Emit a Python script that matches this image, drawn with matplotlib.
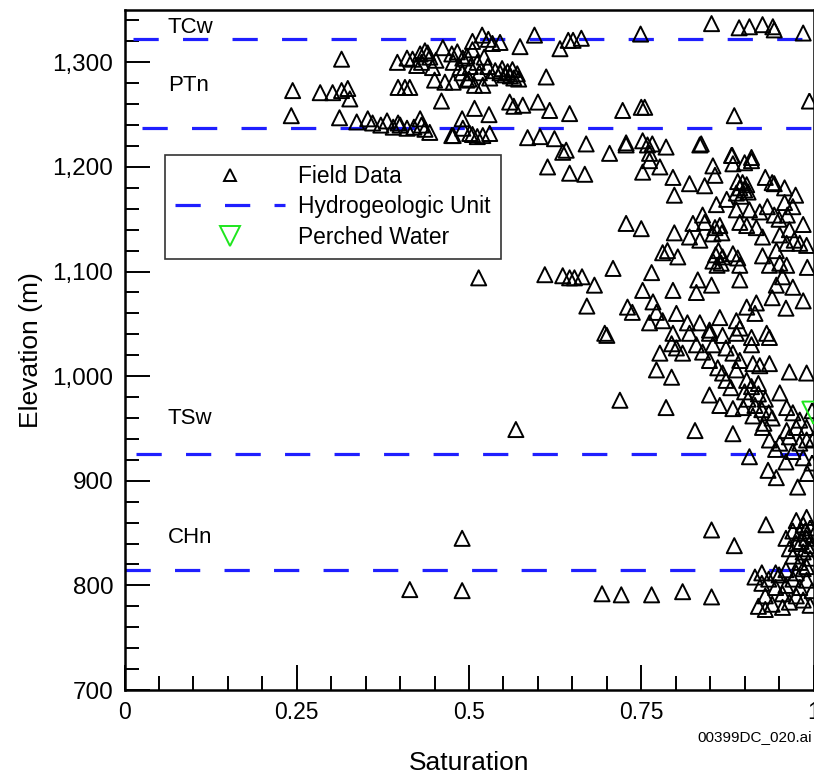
import matplotlib

matplotlib.use("Agg")

import matplotlib.pyplot as plt
from matplotlib.lines import Line2D
from matplotlib.ticker import FuncFormatter, MultipleLocator

OUTPUT_PNG = "out.png"

# (saturation, elevation m), grouped by elevation band
TCW_POINTS = [
    (0.852, 1337), (0.892, 1333), (0.907, 1334), (0.926, 1336), (0.941, 1334),
    (0.943, 1331), (0.985, 1328), (0.749, 1327), (0.519, 1326), (0.595, 1326),
    (0.663, 1323), (0.651, 1321), (0.644, 1321), (0.534, 1318), (0.545, 1319),
    (0.574, 1315), (0.632, 1313), (0.505, 1320), (0.528, 1322),
]

PTN_POINTS = [
    (0.315, 1303), (0.244, 1273), (0.242, 1249), (0.284, 1271), (0.302, 1271),
    (0.315, 1273), (0.324, 1275), (0.327, 1265), (0.312, 1247), (0.337, 1243),
    (0.353, 1246), (0.360, 1242), (0.381, 1244), (0.397, 1242), (0.429, 1246),
    (0.431, 1240), (0.372, 1240), (0.390, 1238), (0.400, 1240), (0.420, 1238),
    (0.396, 1300), (0.410, 1304), (0.429, 1308), (0.436, 1311), (0.443, 1305),
    (0.424, 1297), (0.447, 1295), (0.462, 1314), (0.475, 1308), (0.477, 1300),
    (0.487, 1295), (0.491, 1304), (0.450, 1283), (0.465, 1281), (0.477, 1281),
    (0.497, 1283), (0.397, 1276), (0.407, 1276), (0.414, 1276), (0.460, 1263),
    (0.418, 1303), (0.431, 1300), (0.440, 1309), (0.452, 1302), (0.483, 1310),
    (0.497, 1306), (0.505, 1312), (0.512, 1300), (0.502, 1296), (0.515, 1290),
    (0.522, 1305), (0.527, 1296), (0.490, 1290), (0.500, 1284), (0.530, 1285),
    (0.520, 1278), (0.508, 1278), (0.538, 1292), (0.545, 1290), (0.552, 1288),
    (0.556, 1291), (0.560, 1287), (0.565, 1285), (0.570, 1289), (0.572, 1284),
    (0.548, 1294), (0.563, 1293), (0.612, 1286), (0.559, 1262), (0.578, 1259),
    (0.600, 1262), (0.617, 1254), (0.646, 1251), (0.723, 1254), (0.750, 1257),
    (0.755, 1257), (0.885, 1249), (0.994, 1263), (0.490, 1246), (0.508, 1256),
    (0.529, 1250), (0.565, 1258), (0.410, 1237), (0.491, 1237),
]

TSW_POINTS = [
    (0.443, 1233), (0.436, 1236), (0.475, 1230), (0.477, 1230), (0.501, 1232),
    (0.505, 1231), (0.512, 1229), (0.520, 1230), (0.530, 1232), (0.585, 1228),
    (0.603, 1229), (0.624, 1227), (0.641, 1216), (0.670, 1222), (0.704, 1213),
    (0.728, 1223), (0.752, 1225), (0.766, 1222), (0.786, 1219), (0.762, 1213),
    (0.837, 1222), (0.882, 1211), (0.910, 1209), (0.728, 1221), (0.759, 1221),
    (0.835, 1221), (0.614, 1200), (0.646, 1194), (0.668, 1193), (0.636, 1214),
    (0.762, 1206), (0.752, 1195), (0.777, 1200), (0.796, 1190), (0.820, 1184),
    (0.842, 1182), (0.854, 1201), (0.857, 1192), (0.881, 1211), (0.883, 1203),
    (0.910, 1206), (0.940, 1185), (0.798, 1173), (0.888, 1175), (0.893, 1180),
    (0.897, 1185), (0.900, 1178), (0.903, 1183), (0.895, 1172), (0.890, 1186),
    (0.905, 1176), (0.900, 1204), (0.859, 1164), (0.874, 1169), (0.888, 1159),
    (0.907, 1159), (0.922, 1157), (0.933, 1162), (0.943, 1154), (0.958, 1166),
    (0.962, 1154), (0.943, 1184), (0.974, 1173), (0.970, 1162), (0.958, 1180),
    (0.930, 1190), (0.950, 1150), (0.985, 1145), (0.965, 1140), (0.728, 1146),
    (0.750, 1141), (0.798, 1137), (0.825, 1146), (0.839, 1154), (0.842, 1147),
    (0.857, 1142), (0.864, 1144), (0.867, 1137), (0.820, 1133), (0.835, 1130),
    (0.854, 1136), (0.893, 1147), (0.903, 1144), (0.917, 1142), (0.926, 1133),
    (0.951, 1135), (0.961, 1127), (0.972, 1130), (0.980, 1127), (0.946, 1120),
    (0.926, 1115), (0.936, 1106), (0.951, 1108), (0.961, 1106), (0.991, 1104),
    (0.990, 1125), (0.788, 1120), (0.803, 1114), (0.781, 1118), (0.854, 1110),
    (0.858, 1116), (0.862, 1120), (0.866, 1108), (0.860, 1106), (0.868, 1114),
    (0.883, 1117), (0.890, 1113), (0.893, 1106), (0.709, 1103), (0.765, 1099),
    (0.610, 1097), (0.636, 1096), (0.646, 1094), (0.653, 1094), (0.664, 1095),
    (0.682, 1087), (0.671, 1067), (0.697, 1041), (0.514, 1094), (0.752, 1082),
    (0.796, 1082), (0.832, 1092), (0.830, 1080), (0.852, 1087), (0.893, 1092),
    (0.946, 1087), (0.955, 1095), (0.970, 1085), (0.985, 1072), (0.960, 1065),
    (0.940, 1075), (0.730, 1066), (0.737, 1061), (0.767, 1071), (0.772, 1061),
    (0.762, 1051), (0.801, 1060), (0.781, 1053), (0.817, 1051), (0.835, 1051),
    (0.849, 1044), (0.864, 1056), (0.888, 1053), (0.903, 1066), (0.917, 1070),
    (0.893, 1046), (0.932, 1041), (0.915, 1060), (0.700, 1039), (0.796, 1041),
    (0.820, 1041), (0.849, 1041), (0.868, 1039), (0.888, 1041), (0.910, 1037),
    (0.936, 1037), (0.777, 1022), (0.801, 1027), (0.794, 1031), (0.810, 1022),
    (0.830, 1030), (0.839, 1023), (0.854, 1030), (0.873, 1027), (0.883, 1022),
    (0.893, 1015), (0.910, 1030), (0.912, 1012), (0.922, 1010), (0.936, 1012),
    (0.965, 1004), (0.990, 1003), (0.772, 1006), (0.794, 999), (0.849, 1015),
    (0.861, 1008), (0.868, 1003), (0.873, 996), (0.880, 989), (0.888, 1006),
    (0.903, 996), (0.719, 977), (0.786, 970), (0.849, 982), (0.864, 972),
    (0.883, 969), (0.900, 985), (0.905, 978), (0.910, 990), (0.915, 972),
    (0.920, 983), (0.925, 968), (0.930, 978), (0.935, 965), (0.940, 960),
    (0.912, 962), (0.898, 970), (0.920, 993), (0.928, 955), (0.951, 984),
    (0.961, 970), (0.970, 965), (0.980, 958), (0.990, 951), (0.998, 967),
    (0.828, 948), (0.883, 945), (0.568, 949), (0.926, 951), (0.936, 939),
    (0.951, 936), (0.965, 942), (0.980, 936), (0.990, 939), (0.961, 948),
    (0.975, 951), (1.000, 940), (0.945, 930), (0.970, 928),
]

CHN_POINTS = [
    (0.907, 923), (0.934, 910), (0.946, 903), (0.977, 894), (0.991, 907),
    (0.998, 917), (0.960, 918), (0.985, 922), (0.490, 845), (0.852, 853),
    (0.885, 838), (0.931, 858), (0.975, 862), (0.985, 858), (0.995, 855),
    (0.980, 850), (0.990, 845), (0.975, 840), (0.998, 838), (0.985, 832),
    (0.970, 828), (0.995, 826), (0.980, 822), (0.990, 818), (0.965, 835),
    (0.960, 845), (0.970, 852), (0.990, 865), (1.000, 848), (0.993, 835),
    (0.982, 842), (0.988, 852),
]

LOWER_POINTS = [
    (0.490, 795), (0.414, 796), (0.693, 792), (0.721, 791), (0.765, 791),
    (0.810, 794), (0.852, 789), (0.915, 808), (0.925, 802), (0.935, 806),
    (0.945, 798), (0.930, 790), (0.950, 810), (0.960, 800), (0.955, 792),
    (0.970, 806), (0.980, 798), (0.990, 805), (0.975, 790), (0.940, 782),
    (0.930, 777), (0.920, 780), (0.955, 779), (0.965, 784), (0.985, 786),
    (0.998, 795), (0.995, 781), (0.945, 812), (0.960, 815), (0.975, 812),
    (0.985, 816), (0.925, 812),
]

PERCHED_POINTS = [(1.0, 965)]

UNIT_BOUNDARIES = [1322, 1237, 926, 815]
UNIT_NAMES = ["TCw", "PTn", "TSw", "CHn"]
UNIT_LABEL_ELEV = [1333, 1278, 960, 846]

X_TICKS = [0, 0.25, 0.5, 0.75, 1]
X_TICK_LABELS = ["0", "0.25", "0.5", "0.75", "1"]

BLUE = "#1f1fff"
GREEN = "#1ee61e"
DASHES = (0, (7.9, 7.6))


def build_chart() -> None:
    plt.rcParams["font.family"] = ["Liberation Sans", "DejaVu Sans"]

    field = TCW_POINTS + PTN_POINTS + TSW_POINTS + CHN_POINTS + LOWER_POINTS
    sat = [p[0] for p in field]
    elev = [p[1] for p in field]

    fig = plt.figure(figsize=(8.14, 7.76), dpi=100)
    ax = fig.add_axes([0.153, 0.1108, 0.8464, 0.8763])

    ax.scatter(sat, elev, marker="^", s=118, facecolors="none",
               edgecolors="black", linewidths=1.4, zorder=3)
    ax.scatter([p[0] for p in PERCHED_POINTS], [p[1] for p in PERCHED_POINTS],
               marker="v", s=260, facecolors="none", edgecolors=GREEN,
               linewidths=1.4, zorder=4)

    # dash phase differs a little from line to line in the original
    starts = [0.012, 0.025, 0.017, 0.0]
    for y, x0 in zip(UNIT_BOUNDARIES, starts):
        ax.axhline(y, xmin=x0, xmax=1.0, color=BLUE, lw=2.3, ls=DASHES, zorder=2)

    for name, y in zip(UNIT_NAMES, UNIT_LABEL_ELEV):
        ax.text(0.063, y, name, fontsize=16, ha="left", va="center")

    ax.set_xlim(0, 1)
    ax.set_ylim(700, 1350)
    ax.set_xticks(X_TICKS)
    ax.set_xticklabels(X_TICK_LABELS)
    ax.xaxis.set_minor_locator(MultipleLocator(0.05))
    ax.yaxis.set_major_locator(MultipleLocator(100))
    ax.yaxis.set_minor_locator(MultipleLocator(20))
    ax.yaxis.set_major_formatter(FuncFormatter(lambda v, _: f"{v:,.0f}"))

    ax.tick_params(which="both", direction="in", top=False, right=False,
                   width=1.4, pad=8)
    ax.tick_params(which="major", length=18)
    ax.tick_params(which="minor", length=10)
    ax.tick_params(axis="x", labelsize=16.5)
    ax.tick_params(axis="y", labelsize=17.5)
    for spine in ax.spines.values():
        spine.set_linewidth(1.8)

    ax.set_xlabel("Saturation", fontsize=19)
    ax.set_ylabel("Elevation (m)", fontsize=19)
    ax.xaxis.set_label_coords(0.5, -0.09)
    ax.yaxis.set_label_coords(-0.118, 0.5)

    handles = [
        Line2D([], [], marker="^", ls="none", mfc="none", mec="black",
               ms=9, mew=1.4),
        Line2D([], [], color=BLUE, lw=2.3, ls=DASHES),
        Line2D([], [], marker="v", ls="none", mfc="none", mec=GREEN,
               ms=15, mew=1.4),
    ]
    leg = ax.legend(handles, ["Field Data", "Hydrogeologic Unit", "Perched Water"],
                    loc="upper left", bbox_to_anchor=(0.059, 0.787),
                    borderaxespad=0, fontsize=16.4, handlelength=4.8,
                    handletextpad=0.6, labelspacing=0.32, borderpad=0.45,
                    fancybox=False, framealpha=1, edgecolor="#333333")
    leg.get_frame().set_linewidth(1.2)
    leg.set_zorder(5)

    fig.text(0.9975, 0.050, "00399DC_020.ai", fontsize=11, ha="right", va="center")

    fig.savefig(OUTPUT_PNG, dpi=100)
    plt.close(fig)


def main() -> None:
    build_chart()


if __name__ == "__main__":
    main()
